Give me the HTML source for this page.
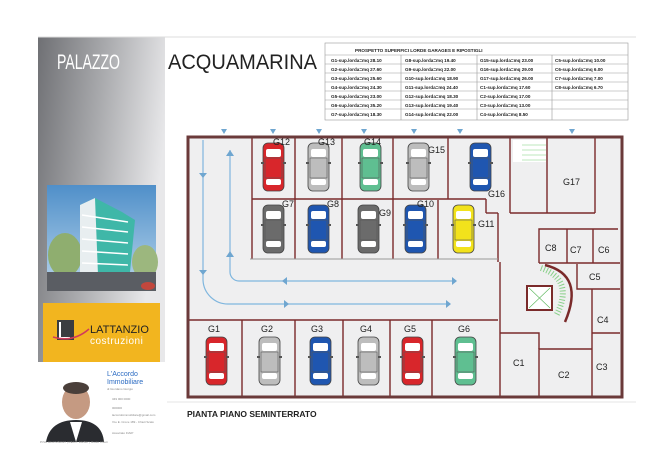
<!DOCTYPE html>
<html><head><meta charset="utf-8"><style>
html,body{margin:0;padding:0;background:#fff;}
svg{display:block;font-family:"Liberation Sans",Arial,sans-serif;}
</style></head><body>
<svg width="650" height="459" viewBox="0 0 650 459" xmlns="http://www.w3.org/2000/svg">
<defs>
<linearGradient id="gp" x1="0" y1="0" x2="1" y2="0.3">
<stop offset="0" stop-color="#6f7074"/><stop offset="0.5" stop-color="#a9aaad"/><stop offset="1" stop-color="#e8e8ea"/>
</linearGradient>
<linearGradient id="sky" x1="0" y1="0" x2="0" y2="1">
<stop offset="0" stop-color="#4f8fc9"/><stop offset="1" stop-color="#b9d6ec"/>
</linearGradient>
<g id="car">
<rect x="0" y="0" width="21" height="48" rx="5" stroke="#444" stroke-width="0.8"/>
<rect x="3" y="6" width="15" height="8" rx="2" fill="#fff"/>
<rect x="3" y="36" width="15" height="6" rx="2" fill="#fff"/>
<rect x="2" y="15" width="17" height="20" fill="none" stroke="#555" stroke-width="0.6"/>
<rect x="-2" y="19" width="3" height="2" fill="#555"/><rect x="20" y="19" width="3" height="2" fill="#555"/>
</g>
</defs>
<rect width="650" height="459" fill="#fff"/>
<!-- left panel -->
<rect x="38" y="37" width="127" height="325" fill="url(#gp)"/>
<line x1="38" y1="37" x2="636" y2="37" stroke="#ddd"/>
<line x1="165" y1="402" x2="636" y2="402" stroke="#e6e6e6"/>
<text x="57" y="69" fill="#fff" font-size="21" textLength="63" lengthAdjust="spacingAndGlyphs">PALAZZO</text>
<text x="168" y="69" fill="#222" font-size="21" textLength="149" lengthAdjust="spacingAndGlyphs">ACQUAMARINA</text>
<!-- photo -->
<rect x="47" y="185" width="109" height="106" fill="url(#sky)"/>
<ellipse cx="65" cy="255" rx="17" ry="22" fill="#8fae6f"/>
<ellipse cx="145" cy="262" rx="13" ry="17" fill="#9cb77e"/>
<polygon points="80,205 95,198 122,212 135,220 130,272 85,275" fill="#3fb7a8"/>
<polygon points="80,205 95,198 98,275 80,275" fill="#e8eef0"/>
<g stroke="#fff" stroke-width="1.5">
<line x1="82" y1="215" x2="128" y2="222"/><line x1="82" y1="227" x2="128" y2="232"/><line x1="82" y1="239" x2="128" y2="243"/><line x1="82" y1="251" x2="128" y2="254"/><line x1="82" y1="263" x2="128" y2="265"/>
</g>
<rect x="47" y="272" width="109" height="19" fill="#5a5d63"/>
<ellipse cx="148" cy="286" rx="7" ry="4" fill="#c2473d"/>
<!-- logo -->
<rect x="43" y="303" width="117" height="59" fill="#f2b51f"/>
<rect x="57" y="320" width="17" height="20" fill="#3a3d40"/>
<path d="M60 322 v16 h10" stroke="#fff" stroke-width="2" fill="none"/>
<path d="M53 337 q20 6 36 -8" stroke="#d23a5a" stroke-width="1.5" fill="none"/>
<text x="90" y="333" font-size="11" fill="#222">LATTANZIO</text>
<text x="90" y="344" font-size="10" fill="#fff" letter-spacing="0.5">costruzioni</text>
<!-- business card -->
<rect x="37" y="362" width="130" height="84" fill="#fff"/>
<ellipse cx="76" cy="402" rx="14" ry="17" fill="#c59a82"/>
<ellipse cx="76" cy="388" rx="13" ry="6" fill="#4a3f3a"/>
<path d="M46 442 q4 -22 30 -22 q26 0 28 22 z" fill="#2a2c30"/>
<path d="M70 422 l6 20 l6 -20 z" fill="#fff"/>
<text x="107" y="376" font-size="7" fill="#2b6bc2">L'Accordo</text>
<text x="107" y="384" font-size="7" fill="#2b6bc2">Immobiliare</text>
<g fill="#888" font-size="3">
<text x="107" y="390">di Giordano Giorgio</text>
<text x="112" y="400">349 000 0000</text><text x="112" y="409">000000</text><text x="112" y="416">laccordoimmobiliare@gmail.com</text><text x="112" y="423">V.le E. Croce 189 - Chieti Scalo</text><text x="112" y="434">Associato FIAIP</text>
<text x="40" y="443">P.IVA 02107250697 | REA n. 162867 | Ruolo Chieti</text>
</g>
<!-- table -->
<g stroke="#999" stroke-width="0.6" fill="none">
<rect x="325" y="43" width="303" height="77"/>
<line x1="325" y1="55" x2="628" y2="55"/>
<line x1="401" y1="55" x2="401" y2="120"/><line x1="477" y1="55" x2="477" y2="120"/><line x1="552" y1="55" x2="552" y2="120"/>
<line x1="325" y1="64" x2="628" y2="64"/><line x1="325" y1="73" x2="628" y2="73"/><line x1="325" y1="82" x2="628" y2="82"/><line x1="325" y1="91" x2="628" y2="91"/><line x1="325" y1="100" x2="628" y2="100"/><line x1="325" y1="109" x2="628" y2="109"/>
</g>
<g font-size="4.6" font-weight="bold" fill="#222">
<text x="355" y="52">PROSPETTO SUPERFICI LORDE GARAGES E RIPOSTIGLI</text>
<text x="331" y="62">G1-sup.lorda=mq 28.10</text><text x="331" y="71">G2-sup.lorda=mq 27.60</text><text x="331" y="80">G3-sup.lorda=mq 25.60</text><text x="331" y="89">G4-sup.lorda=mq 24.30</text><text x="331" y="98">G5-sup.lorda=mq 23.00</text><text x="331" y="107">G6-sup.lorda=mq 35.20</text><text x="331" y="116">G7-sup.lorda=mq 18.30</text>
<text x="405" y="62">G8-sup.lorda=mq 19.40</text><text x="405" y="71">G9-sup.lorda=mq 22.00</text><text x="405" y="80">G10-sup.lorda=mq 18.90</text><text x="405" y="89">G11-sup.lorda=mq 24.40</text><text x="405" y="98">G12-sup.lorda=mq 18.30</text><text x="405" y="107">G13-sup.lorda=mq 19.40</text><text x="405" y="116">G14-sup.lorda=mq 22.00</text>
<text x="480" y="62">G15-sup.lorda=mq 23.00</text><text x="480" y="71">G16-sup.lorda=mq 29.00</text><text x="480" y="80">G17-sup.lorda=mq 26.00</text><text x="480" y="89">C1-sup.lorda=mq 17.60</text><text x="480" y="98">C2-sup.lorda=mq 17.00</text><text x="480" y="107">C3-sup.lorda=mq 13.00</text><text x="480" y="116">C4-sup.lorda=mq 8.50</text>
<text x="555" y="62">C5-sup.lorda=mq 10.00</text><text x="555" y="71">C6-sup.lorda=mq 6.00</text><text x="555" y="80">C7-sup.lorda=mq 7.00</text><text x="555" y="89">C8-sup.lorda=mq 6.70</text>
</g>
<!-- floor plan -->
<rect x="188" y="137" width="434" height="260" fill="#efeff0"/>
<g stroke="#7a2a2a" stroke-width="1.4" fill="none">
<line x1="252" y1="137" x2="252" y2="259"/>
<line x1="295" y1="137" x2="295" y2="259"/>
<line x1="342" y1="137" x2="342" y2="259"/>
<line x1="393" y1="137" x2="393" y2="259"/>
<line x1="448" y1="137" x2="448" y2="199"/>
<line x1="510" y1="137" x2="510" y2="213"/>
<line x1="252" y1="199" x2="448" y2="199"/>
<line x1="448" y1="199" x2="486" y2="199"/><line x1="486" y1="199" x2="486" y2="213"/><line x1="486" y1="213" x2="498" y2="213"/>
<line x1="498" y1="213" x2="498" y2="262"/>
<line x1="438" y1="200" x2="438" y2="259"/>
<line x1="510" y1="213" x2="595" y2="213"/>
<line x1="547" y1="137" x2="547" y2="213"/><line x1="595" y1="137" x2="595" y2="213"/>
<path d="M539 263 V229 H618"/><line x1="567" y1="229" x2="567" y2="263"/><line x1="593" y1="229" x2="593" y2="263"/>
<line x1="539" y1="263" x2="620" y2="263"/>
<path d="M577 264 V289 H620"/>
<path d="M592 289 V397"/><line x1="592" y1="333" x2="620" y2="333"/>
<path d="M539 397 V349 H592"/>
<path d="M500 333 H539 V349"/>
<line x1="500" y1="262" x2="500" y2="397"/>
<line x1="188" y1="320" x2="498" y2="320"/>
<line x1="242" y1="320" x2="242" y2="397"/><line x1="295" y1="320" x2="295" y2="397"/><line x1="343" y1="320" x2="343" y2="397"/><line x1="390" y1="320" x2="390" y2="397"/><line x1="432" y1="320" x2="432" y2="397"/>
</g>
<line x1="250" y1="259" x2="498" y2="259" stroke="#999" stroke-width="1"/>
<line x1="188" y1="137" x2="622" y2="137" stroke="#9fd08a" stroke-width="1.2"/>
<rect x="188" y="137" width="434" height="260" fill="none" stroke="#6b3a3a" stroke-width="3"/>
<!-- stair -->
<rect x="513" y="140" width="33" height="22" fill="#fff"/>
<g stroke="#7fd07f" stroke-width="0.6"><line x1="522" y1="145" x2="546" y2="145"/><line x1="522" y1="150" x2="546" y2="150"/><line x1="522" y1="155" x2="546" y2="155"/><line x1="522" y1="160" x2="546" y2="160"/></g>
<rect x="527" y="286" width="25" height="24" fill="#fff" stroke="#7a2a2a" stroke-width="2"/>
<path d="M529 288 L550 308 M550 288 L529 308" stroke="#5cb85c" stroke-width="0.6"/>
<path d="M545 265 Q585 275 565 322" fill="none" stroke="#7a2a2a" stroke-width="2.5"/>
<path d="M541 268 Q575 280 556 316" fill="none" stroke="#8ad08a" stroke-width="6" stroke-dasharray="1 2"/>
<!-- arrows -->
<g stroke="#7fb6de" stroke-width="1.2" fill="none">
<path d="M203 140 V280 A25 25 0 0 0 228 304 H450"/>
<path d="M230 150 V272 A9 9 0 0 0 239 281 H455"/>
</g>
<g fill="#6fa6d0">
<polygon points="199,173 207,173 203,178"/><polygon points="199,270 207,270 203,275"/>
<polygon points="226,156 234,156 230,150"/><polygon points="226,257 234,257 230,251"/>
<polygon points="282,281 287,277 287,285"/><polygon points="457,281 452,277 452,285"/>
<polygon points="289,304 284,300 284,308"/><polygon points="451,304 446,300 446,308"/>
<polygon points="221,129 227,129 224,134"/><polygon points="270,129 276,129 273,134"/><polygon points="316,129 322,129 319,134"/><polygon points="361,129 367,129 364,134"/><polygon points="411,129 417,129 414,134"/><polygon points="457,129 463,129 460,134"/><polygon points="569,129 575,129 572,134"/>
</g>
<!-- cars -->
<use href="#car" x="263" y="143" fill="#d8262b"/>
<use href="#car" x="308" y="143" fill="#bdbdbd"/>
<use href="#car" x="360" y="143" fill="#5fbf91"/>
<use href="#car" x="408" y="143" fill="#bdbdbd"/>
<use href="#car" x="470" y="143" fill="#1f56b0"/>
<use href="#car" x="263" y="205" fill="#6b6b6b"/>
<use href="#car" x="308" y="205" fill="#1f56b0"/>
<use href="#car" x="358" y="205" fill="#6b6b6b"/>
<use href="#car" x="405" y="205" fill="#1f56b0"/>
<use href="#car" x="453" y="205" fill="#f2e21c"/>
<use href="#car" x="206" y="337" fill="#d8262b"/>
<use href="#car" x="259" y="337" fill="#bdbdbd"/>
<use href="#car" x="310" y="337" fill="#1f56b0"/>
<use href="#car" x="358" y="337" fill="#bdbdbd"/>
<use href="#car" x="402" y="337" fill="#d8262b"/>
<use href="#car" x="455" y="337" fill="#5fbf91"/>
<!-- labels -->
<g font-size="9" fill="#222">
<text x="273" y="145">G12</text><text x="318" y="145">G13</text><text x="364" y="145">G14</text><text x="428" y="153">G15</text><text x="488" y="197">G16</text><text x="563" y="185">G17</text>
<text x="282" y="207">G7</text><text x="327" y="207">G8</text><text x="379" y="216">G9</text><text x="417" y="207">G10</text><text x="478" y="227">G11</text>
<text x="208" y="332">G1</text><text x="261" y="332">G2</text><text x="311" y="332">G3</text><text x="360" y="332">G4</text><text x="404" y="332">G5</text><text x="458" y="332">G6</text>
<text x="513" y="366">C1</text><text x="558" y="378">C2</text><text x="596" y="370">C3</text><text x="597" y="323">C4</text><text x="589" y="280">C5</text><text x="598" y="253">C6</text><text x="570" y="253">C7</text><text x="545" y="251">C8</text>
<text x="187" y="417" font-weight="bold" font-size="8.5">PIANTA PIANO SEMINTERRATO</text>
</g>
</svg>
</body></html>
